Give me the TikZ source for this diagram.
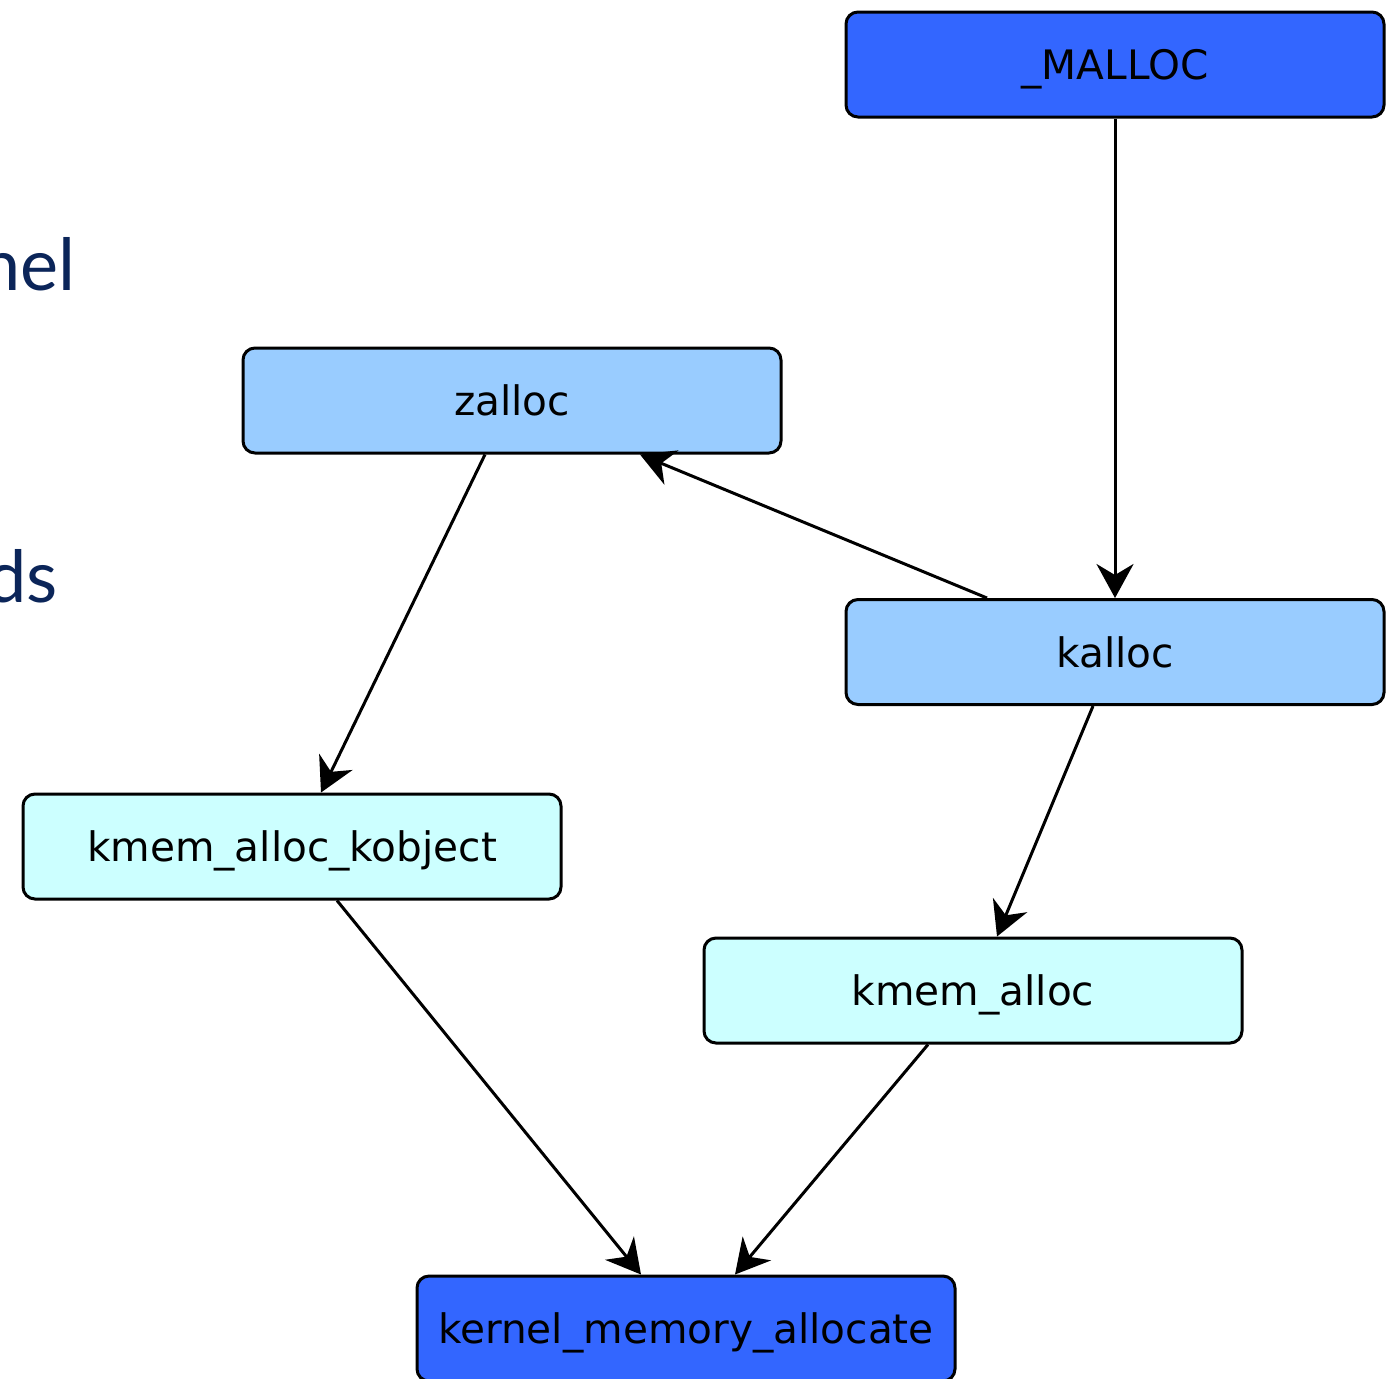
\documentclass[tikz,border=0pt]{standalone}
\usepackage{fontspec}
\setmainfont{DejaVu Sans}
\newfontfamily\slidefont{Lato}
\usetikzlibrary{arrows.meta,calc}
\definecolor{darkfn}{HTML}{3366FF}
\definecolor{midfn}{HTML}{99CCFF}
\definecolor{lightfn}{HTML}{CCFFFF}
\definecolor{slidenavy}{HTML}{0B2559}
\begin{document}
\begin{tikzpicture}[x=0.5pt,y=-0.5pt,
    fn/.style={draw,line width=1.5pt,rounded corners=6pt,minimum width=269pt,minimum height=52.5pt,inner sep=0pt,text height=18pt,text depth=3pt,font=\fontsize{20.3}{24}\selectfont},
    call/.style={-{Stealth[length=17pt,width=18.5pt,inset=5.5pt]},line width=1.5pt},
    slide/.style={text=slidenavy,font=\slidefont\fontsize{36}{40}\selectfont,anchor=base east,inner sep=0pt}]
    \clip (0,0) rectangle (1391,1378);
    \node[slide] (t1) at (76,290) {nel};
    \node[slide] (t2) at (58,602) {ds};
    \node[fn,fill=darkfn] (malloc) at (1115,64.5) {\_MALLOC};
    \node[fn,fill=midfn] (zalloc) at (512,400.5) {zalloc};
    \node[fn,fill=midfn] (kalloc) at (1115,652) {kalloc};
    \node[fn,fill=lightfn] (kobj) at (292,846.5) {kmem\_alloc\_kobject};
    \node[fn,fill=lightfn] (kmem) at (973,990.5) {kmem\_alloc};
    \node[fn,fill=darkfn] (kma) at (686,1328.5) {kernel\_memory\_allocate};
    \draw[call] (malloc) -- (kalloc);
    \draw[call] ($(kalloc.north)+(-128,0)$) -- ($(zalloc.south)+(128,0)$);
    \draw[call] ($(zalloc.south)+(-27,0)$) -- ($(kobj.north)+(29,0)$);
    \draw[call] ($(kalloc.south)+(-22,0)$) -- ($(kmem.north)+(24,0)$);
    \draw[call] ($(kobj.south)+(45,0)$) -- ($(kma.north)+(-45,0)$);
    \draw[call] ($(kmem.south)+(-45,0)$) -- ($(kma.north)+(49,0)$);
\end{tikzpicture}
\end{document}
